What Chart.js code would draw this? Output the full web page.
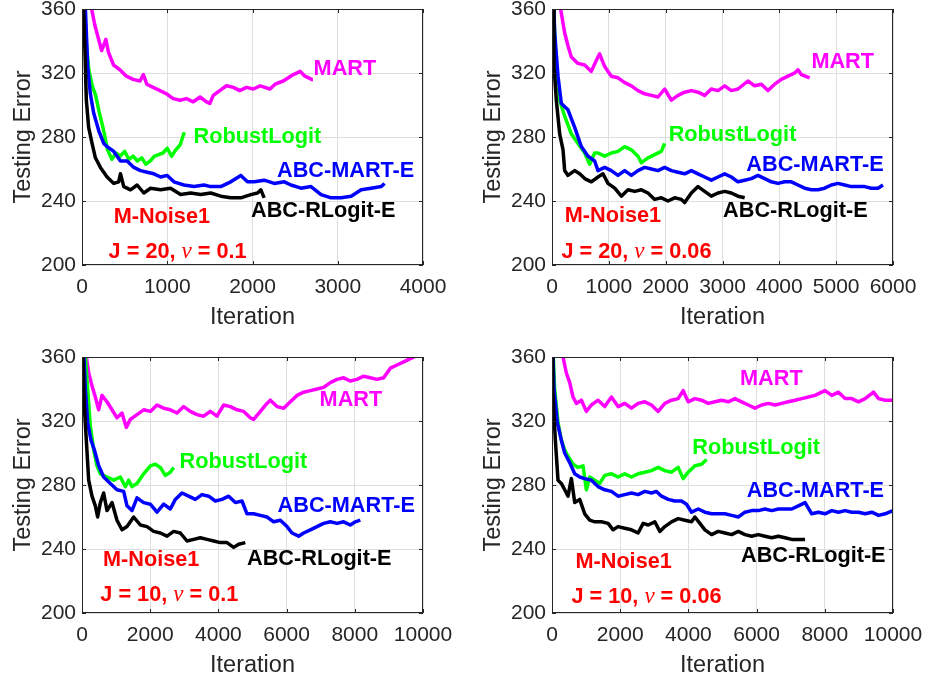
<!DOCTYPE html>
<html>
<head>
<meta charset="utf-8">
<script src="https://cdn.jsdelivr.net/npm/chart.js@4/dist/chart.umd.min.js"></script>
<style>
html, body { margin: 0; padding: 0; background: #fff; overflow: hidden; width: 925px; height: 681px; }
.panel { position: absolute; width: 455px; height: 340px; }
</style>
</head>
<body>
<div class="panel" style="left:0;top:0"><canvas id="c1" width="455" height="340"></canvas></div>
<div class="panel" style="left:470px;top:0"><canvas id="c2" width="455" height="340"></canvas></div>
<div class="panel" style="left:0;top:348px"><canvas id="c3" width="455" height="340"></canvas></div>
<div class="panel" style="left:470px;top:348px"><canvas id="c4" width="455" height="340"></canvas></div>
<script>
// [iteration, testing error]

// J = 20, nu = 0.1
var p1Mart = [[95,365],[113,360],[150,350],[190,342],[230,334],[280,341],[310,333],[370,325],[445,322],[520,318],[600,316],[680,315],[720,319],[760,313],[835,311],[915,309],[990,307],[1070,304],[1150,303],[1225,304],[1305,302],[1385,305],[1460,302],[1500,301],[1540,306],[1615,309],[1695,312],[1775,311],[1850,309],[1930,311],[2010,310],[2090,312],[2205,310],[2265,313],[2360,315],[2480,319],[2560,321],[2615,318],[2695,316],[2710,316]];
var p1Robust = [[0,400],[40,345],[80,322],[120,312],[160,306],[200,296],[250,285],[300,272],[350,266],[400,270],[450,268],[500,271],[550,266],[600,268],[650,265],[700,267],[750,263],[800,265],[850,268],[900,269],[950,270],[1000,273],[1050,268],[1100,272],[1150,275],[1200,283]];
var p1AbcMart = [[0,400],[40,360],[67,324],[98,307],[137,295],[196,284],[255,276],[294,274],[373,271],[451,265],[529,265],[608,261],[686,259],[765,258],[843,257],[922,255],[1000,256],[1078,252],[1196,250],[1314,249],[1431,250],[1510,249],[1627,249],[1745,252],[1863,256],[1941,252],[2020,252],[2137,253],[2255,251],[2373,252],[2451,250],[2569,248],[2686,249],[2804,244],[2922,242],[3039,242],[3157,243],[3275,247],[3392,248],[3510,249],[3549,251]];
var p1AbcRLogit = [[0,400],[20,360],[51,303],[78,286],[118,276],[157,267],[216,261],[294,255],[373,251],[430,252],[451,257],[490,249],[569,247],[647,250],[725,245],[804,248],[922,247],[1039,248],[1157,244],[1275,245],[1392,244],[1510,245],[1627,243],[1745,242],[1863,242],[1980,244],[2059,245],[2098,247],[2137,242]];

// J = 20, nu = 0.06
var p2Mart = [[130,365],[152,360],[223,345],[281,337],[340,330],[457,326],[575,325],[692,321],[780,328],[838,332],[927,324],[1044,318],[1161,317],[1279,314],[1396,312],[1513,309],[1630,307],[1748,306],[1865,305],[1982,310],[2100,303],[2217,306],[2334,308],[2452,309],[2569,308],[2686,306],[2803,310],[2921,309],[3038,312],[3155,309],[3272,310],[3449,315],[3566,312],[3683,313],[3800,309],[3918,313],[4035,316],[4152,318],[4270,320],[4328,322],[4387,319],[4534,317]];
var p2Robust = [[0,400],[40,350],[76,324],[135,303],[223,293],[340,282],[457,276],[575,270],[663,263],[750,270],[809,270],[927,268],[1044,270],[1161,271],[1279,274],[1396,272],[1513,268],[1572,264],[1689,267],[1806,269],[1924,271],[1982,276]];
var p2AbcMart = [[0,400],[47,345],[106,318],[164,301],[281,297],[399,286],[516,274],[633,268],[751,265],[809,259],[927,261],[1044,259],[1161,256],[1279,259],[1396,256],[1513,259],[1630,261],[1748,260],[1865,259],[1982,261],[2100,259],[2217,258],[2334,257],[2452,259],[2569,257],[2686,255],[2803,253],[2921,255],[3038,257],[3155,255],[3272,252],[3390,253],[3507,254],[3624,256],[3741,254],[3859,252],[3976,251],[4094,252],[4211,252],[4328,250],[4446,248],[4563,247],[4680,247],[4797,248],[4915,250],[5032,251],[5149,250],[5267,249],[5384,249],[5501,249],[5618,248],[5736,248],[5824,250]];
var p2AbcRLogit = [[0,400],[20,360],[35,324],[76,303],[135,282],[194,272],[223,259],[281,256],[399,259],[487,257],[575,254],[692,252],[809,255],[897,257],[985,251],[1103,248],[1220,243],[1337,247],[1455,246],[1572,247],[1689,245],[1806,241],[1924,242],[2041,240],[2158,242],[2276,241],[2334,239],[2452,245],[2569,249],[2686,246],[2803,243],[2921,245],[3038,246],[3155,245],[3272,243],[3390,242]];

// J = 10, nu = 0.1
var p3Mart = [[110,365],[127,360],[196,350],[293,342],[391,335],[489,327],[587,336],[733,332],[880,327],[1026,322],[1173,325],[1300,316],[1417,321],[1613,324],[1808,327],[2004,326],[2199,330],[2395,328],[2590,327],[2786,325],[2981,329],[3177,326],[3372,324],[3568,323],[3763,326],[3959,323],[4155,330],[4350,329],[4546,327],[4741,326],[4936,322],[5034,321],[5230,326],[5425,331],[5523,333],[5719,329],[5914,328],[6110,332],[6305,336],[6501,338],[6696,339],[6892,340],[7087,341],[7283,344],[7478,346],[7674,347],[7869,345],[8065,346],[8260,348],[8456,347],[8651,346],[8847,347],[9042,353],[9238,355],[9433,357],[9629,359],[9824,361],[10000,362]];
var p3Robust = [[0,400],[100,360],[166,340],[244,317],[342,302],[440,292],[538,287],[733,285],[929,283],[1124,285],[1271,279],[1369,283],[1466,279],[1613,281],[1808,287],[2004,292],[2150,293],[2297,291],[2444,286],[2590,288],[2688,291]];
var p3AbcMart = [[0,400],[60,360],[98,340],[166,319],[264,308],[362,302],[489,292],[635,285],[831,281],[1026,277],[1222,276],[1320,267],[1466,264],[1613,272],[1808,269],[2004,268],[2199,263],[2395,268],[2590,265],[2737,271],[2932,275],[3128,273],[3323,271],[3519,274],[3714,273],[3910,270],[4105,271],[4301,273],[4497,269],[4692,270],[4839,262],[5034,262],[5230,261],[5425,260],[5621,257],[5816,258],[6012,254],[6158,250],[6354,248],[6500,250],[6696,252],[6892,254],[7087,256],[7283,257],[7478,256],[7674,257],[7869,255],[8016,257],[8162,258]];
var p3AbcRLogit = [[0,400],[30,360],[68,329],[127,308],[196,283],[293,273],[391,267],[459,260],[538,269],[635,275],[733,264],[880,269],[1026,258],[1173,252],[1320,254],[1515,260],[1711,255],[1906,254],[2102,251],[2297,250],[2493,248],[2688,251],[2884,250],[3079,245],[3275,246],[3470,247],[3666,246],[3861,245],[4057,244],[4252,244],[4448,241],[4594,243],[4790,244]];

// J = 10, nu = 0.06
var p4Mart = [[300,365],[323,360],[421,350],[519,344],[617,335],[715,331],[862,333],[1008,326],[1155,330],[1351,333],[1547,329],[1743,335],[1938,329],[2134,331],[2330,328],[2526,331],[2722,332],[2917,330],[3113,326],[3309,331],[3505,333],[3700,334],[3847,339],[3994,332],[4190,334],[4386,333],[4582,331],[4778,332],[4973,333],[5169,332],[5365,334],[5561,332],[5757,330],[5952,328],[6148,330],[6344,331],[6540,330],[6735,331],[6931,332],[7127,333],[7323,334],[7519,335],[7714,336],[7910,338],[8008,339],[8204,336],[8400,338],[8596,334],[8791,334],[8987,332],[9183,334],[9428,338],[9575,334],[9770,333],[10000,333]];
var p4Robust = [[0,400],[40,360],[78,340],[176,319],[274,308],[372,302],[470,298],[617,293],[764,291],[910,292],[1008,277],[1106,285],[1253,283],[1400,281],[1547,286],[1743,287],[1938,285],[2134,287],[2330,285],[2526,287],[2722,288],[2917,289],[3113,291],[3309,289],[3505,288],[3700,291],[3847,284],[3994,288],[4190,292],[4386,293],[4533,296]];
var p4AbcMart = [[0,400],[30,360],[59,340],[157,319],[274,308],[372,300],[519,294],[666,287],[813,285],[959,284],[1155,283],[1351,279],[1547,277],[1743,276],[1938,273],[2134,274],[2330,275],[2526,274],[2722,276],[2917,275],[3064,276],[3211,273],[3407,271],[3603,270],[3798,270],[3945,268],[4092,263],[4288,265],[4484,263],[4680,262],[4875,262],[5071,262],[5267,261],[5463,260],[5659,263],[5854,264],[6050,264],[6246,265],[6442,264],[6638,265],[6833,265],[7029,265],[7225,267],[7421,269],[7617,262],[7812,263],[8008,262],[8204,264],[8400,263],[8596,264],[8791,263],[8987,263],[9183,262],[9379,263],[9575,261],[9770,262],[10000,264]];
var p4AbcRLogit = [[0,400],[15,360],[29,340],[98,308],[176,283],[274,281],[372,277],[470,273],[568,284],[666,269],[813,271],[959,262],[1106,258],[1253,257],[1449,257],[1645,256],[1792,252],[1938,254],[2134,253],[2330,252],[2526,250],[2673,256],[2820,255],[3015,257],[3162,251],[3309,254],[3505,257],[3700,259],[3896,258],[4092,257],[4190,260],[4337,256],[4484,252],[4680,249],[4875,251],[5071,250],[5267,249],[5463,251],[5659,249],[5854,248],[6050,249],[6246,248],[6442,247],[6638,248],[6833,247],[7029,246],[7225,246],[7421,246]];

var yTicks = [200, 240, 280, 320, 360];
var seriesNames = ["MART", "RobustLogit", "ABC-MART-E", "ABC-RLogit-E"];

var FONT = '"Liberation Sans", Arial, sans-serif';
var INK = '#262626';
var NOTE_FONT = 'bold 21.7px ' + FONT;

// axes box + inward tick marks like matlab
var boxPlugin = {
    id: 'box',
    afterDraw: function (chart) {
        var a = chart.chartArea, ctx = chart.ctx;
        var xs = chart.scales.x, ys = chart.scales.y;
        ctx.save();
        ctx.strokeStyle = INK;
        ctx.lineWidth = 1;
        ctx.strokeRect(Math.round(a.left) + 0.5, Math.round(a.top) + 0.5, Math.round(a.right - a.left) - 1, Math.round(a.bottom - a.top) - 1);
        ctx.beginPath();
        xs.ticks.forEach(function (t) {
            var px = Math.round(xs.getPixelForValue(t.value)) + 0.5;
            ctx.moveTo(px, a.bottom); ctx.lineTo(px, a.bottom - 4);
            ctx.moveTo(px, a.top); ctx.lineTo(px, a.top + 4);
        });
        ys.ticks.forEach(function (t) {
            var py = Math.round(ys.getPixelForValue(t.value)) + 0.5;
            ctx.moveTo(a.left, py); ctx.lineTo(a.left + 4, py);
            ctx.moveTo(a.right, py); ctx.lineTo(a.right - 4, py);
        });
        ctx.stroke();
        ctx.restore();
    }
};

// text notes placed in data coordinates
function notePlugin(notes) {
    return {
        id: 'notes',
        afterDatasetsDraw: function (chart) {
            var ctx = chart.ctx, xs = chart.scales.x, ys = chart.scales.y;
            ctx.save();
            ctx.textBaseline = 'middle';
            ctx.textAlign = 'left';
            notes.forEach(function (n) {
                var x = xs.getPixelForValue(n.x), y = ys.getPixelForValue(n.y);
                var parts = n.parts || [{ t: n.text }];
                parts.forEach(function (p) {
                    ctx.font = p.font || NOTE_FONT;
                    ctx.fillStyle = n.color;
                    ctx.fillText(p.t, x, y);
                    x += ctx.measureText(p.t).width;
                });
            });
            ctx.restore();
        }
    };
}

function nuParts(j, nu) {
    return [
        { t: 'J = ' + j + ', ' },
        { t: '\u03bd', font: 'italic 23px "Liberation Serif", "Times New Roman", serif' },
        { t: ' = ' + nu }
    ];
}

var colors = ['#ff00ff', '#00ff00', '#0000ff', '#000000'];

function makePanel(id, xMax, xStep, lines, notes) {
    // black drawn on top, so reverse order
    var ds = lines.map(function (pts, i) {
        return {
            label: seriesNames[i],
            data: pts.map(function (p) { return { x: p[0], y: p[1] }; }),
            borderColor: colors[i],
            borderWidth: 3.5,
            borderJoinStyle: 'round',
            pointRadius: 0,
            tension: 0,
            fill: false,
            order: 4 - i
        };
    });

    return new Chart(document.getElementById(id), {
        type: 'line',
        data: { datasets: ds },
        options: {
            responsive: false,
            animation: false,
            events: [],
            layout: { autoPadding: false, padding: { left: 0, top: 9, right: 32, bottom: 0 } },
            plugins: { legend: { display: false }, tooltip: { enabled: false } },
            scales: {
                x: {
                    type: 'linear',
                    min: 0, max: xMax,
                    grid: { color: '#dedede', drawTicks: false },
                    border: { display: false },
                    ticks: {
                        stepSize: xStep, autoSkip: false, maxRotation: 0, padding: 10,
                        color: INK, font: { family: FONT, size: 21 },
                        callback: function (v) { return String(v); }
                    },
                    title: {
                        display: true, text: 'Iteration', color: INK,
                        font: { family: FONT, size: 23.5 }, padding: { top: 0, bottom: 8 }
                    },
                    afterFit: function (s) { s.height = 75; s.paddingLeft = 0; s.paddingRight = 0; }
                },
                y: {
                    min: 200, max: 360,
                    grid: { color: '#dedede', drawTicks: false },
                    border: { display: false },
                    afterBuildTicks: function (s) { s.ticks = yTicks.map(function (v) { return { value: v }; }); },
                    ticks: {
                        padding: 6, color: INK, font: { family: FONT, size: 21 },
                        callback: function (v) { return String(v); }
                    },
                    title: {
                        display: true, text: 'Testing Error', color: INK,
                        font: { family: FONT, size: 23.5 }, padding: { top: 9, bottom: 0 }
                    },
                    afterFit: function (s) { s.width = 82; s.paddingTop = 0; s.paddingBottom = 0; }
                }
            }
        },
        plugins: [boxPlugin, notePlugin(notes)]
    });
}

makePanel('c1', 4000, 1000, [p1Mart, p1Robust, p1AbcMart, p1AbcRLogit], [
    { text: 'MART', x: 2717, y: 322.7, color: '#ff00ff' },
    { text: 'RobustLogit', x: 1309, y: 280, color: '#00ff00' },
    { text: 'ABC-MART-E', x: 2287, y: 259, color: '#0000ff' },
    { text: 'ABC-RLogit-E', x: 1982, y: 233.7, color: '#000000' },
    { text: 'M-Noise1', x: 371, y: 230, color: '#ff0000' },
    { parts: nuParts(20, '0.1'), x: 312, y: 208, color: '#ff0000' }
]);

makePanel('c2', 6000, 1000, [p2Mart, p2Robust, p2AbcMart, p2AbcRLogit], [
    { text: 'MART', x: 4564, y: 326.6, color: '#ff00ff' },
    { text: 'RobustLogit', x: 2053, y: 281, color: '#00ff00' },
    { text: 'ABC-MART-E', x: 3420, y: 262.7, color: '#0000ff' },
    { text: 'ABC-RLogit-E', x: 3010, y: 234, color: '#000000' },
    { text: 'M-Noise1', x: 224, y: 230.8, color: '#ff0000' },
    { parts: nuParts(20, '0.06'), x: 165, y: 208.3, color: '#ff0000' }
]);

makePanel('c3', 10000, 2000, [p3Mart, p3Robust, p3AbcMart, p3AbcRLogit], [
    { text: 'MART', x: 6968, y: 333, color: '#ff00ff' },
    { text: 'RobustLogit', x: 2862, y: 294.2, color: '#00ff00' },
    { text: 'ABC-MART-E', x: 5736, y: 267, color: '#0000ff' },
    { text: 'ABC-RLogit-E', x: 4839, y: 234, color: '#000000' },
    { text: 'M-Noise1', x: 616, y: 233, color: '#ff0000' },
    { parts: nuParts(10, '0.1'), x: 537, y: 211, color: '#ff0000' }
]);

makePanel('c4', 10000, 2000, [p4Mart, p4Robust, p4AbcMart, p4AbcRLogit], [
    { text: 'MART', x: 5514, y: 346.2, color: '#ff00ff' },
    { text: 'RobustLogit', x: 4113, y: 303, color: '#00ff00' },
    { text: 'ABC-MART-E', x: 5711, y: 276.4, color: '#0000ff' },
    { text: 'ABC-RLogit-E', x: 5543, y: 235.5, color: '#000000' },
    { text: 'M-Noise1', x: 687, y: 232, color: '#ff0000' },
    { parts: nuParts(10, '0.06'), x: 570, y: 210, color: '#ff0000' }
]);
</script>
</body>
</html>
